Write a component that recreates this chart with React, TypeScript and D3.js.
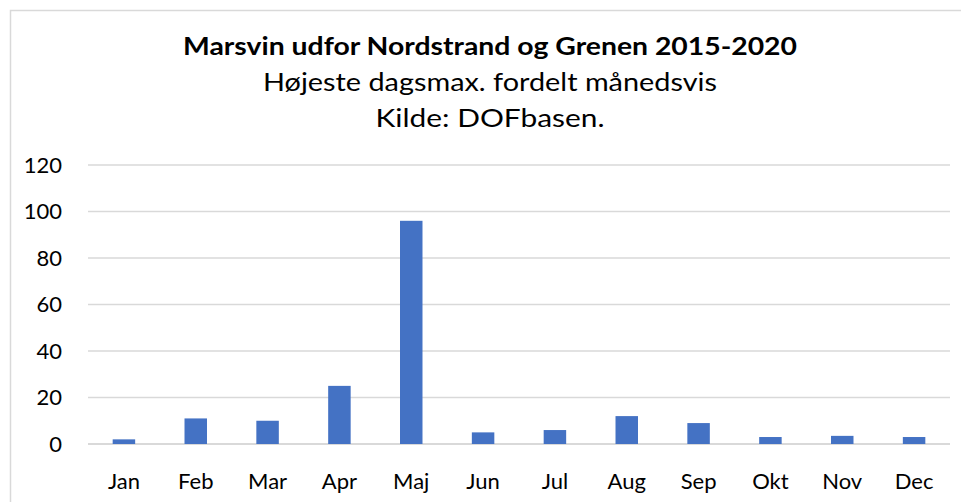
import React from "react";
import * as d3 from "d3";

const months = ["Jan", "Feb", "Mar", "Apr", "Maj", "Jun", "Jul", "Aug", "Sep", "Okt", "Nov", "Dec"];
const values = [2, 11, 10, 25, 96, 5, 6, 12, 9, 3, 3.5, 3];
const yTicks = [0, 20, 40, 60, 80, 100, 120];
const titleLines = [
  "Marsvin udfor Nordstrand og Grenen 2015-2020",
  "Højeste dagsmax. fordelt månedsvis",
  "Kilde: DOFbasen.",
];

const W = 961;
const H = 502;
const font = "Lato, 'Open Sans', sans-serif";

export default function App() {
  const x = d3.scaleBand<string>().domain(months).range([88, 950]).paddingInner(0.687).paddingOuter(0.3435);
  const y = d3.scaleLinear().domain([0, 120]).range([444, 165]);

  return (
    <svg width={W} height={H} style={{ position: "absolute", left: 0, top: 0, background: "#fff" }}>
      <rect x={10.5} y={10.5} width={970} height={520} fill="#fff" stroke="#D9D9D9" strokeWidth={1.5} />
      <text x={490} y={55} textAnchor="middle" fontFamily={font} fontWeight="bold" fontSize={25} fill="#000" textLength={614} lengthAdjust="spacingAndGlyphs">
        {titleLines[0]}
      </text>
      <text x={490} y={91} textAnchor="middle" fontFamily={font} fontSize={25} fill="#000" textLength={454} lengthAdjust="spacingAndGlyphs">
        {titleLines[1]}
      </text>
      <text x={490} y={127} textAnchor="middle" fontFamily={font} fontSize={25} fill="#000" textLength={229} lengthAdjust="spacingAndGlyphs">
        {titleLines[2]}
      </text>
      {yTicks.map((t) => (
        <g key={t}>
          <line x1={88} x2={950} y1={y(t)} y2={y(t)} stroke="#D9D9D9" strokeWidth={t === 0 ? 2 : 1.5} />
          <text x={62} y={y(t)} dy="0.36em" textAnchor="end" fontFamily={font} fontSize={22} fill="#000">
            {t}
          </text>
        </g>
      ))}
      {months.map((m, i) => (
        <rect key={m} x={x(m)} y={y(values[i])} width={x.bandwidth()} height={y(0) - y(values[i])} fill="#4472C4" />
      ))}
      {months.map((m) => (
        <text key={m} x={(x(m) as number) + x.bandwidth() / 2} y={489} textAnchor="middle" fontFamily={font} fontSize={22} fill="#000">
          {m}
        </text>
      ))}
    </svg>
  );
}
